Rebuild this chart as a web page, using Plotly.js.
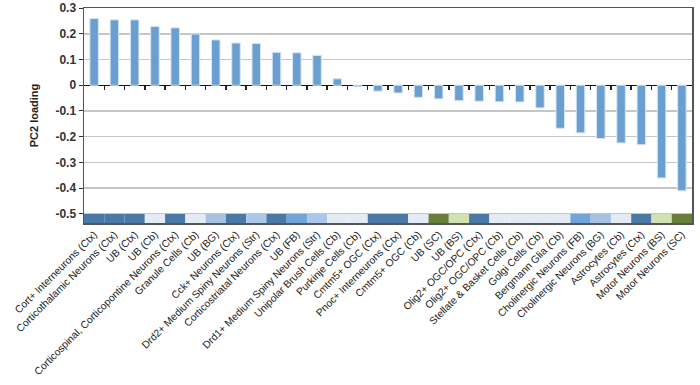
<!DOCTYPE html>
<html>
<head>
<meta charset="utf-8">
<script src="https://cdn.plot.ly/plotly-3.0.1.min.js"></script>
<style>html,body{margin:0;padding:0;background:#fff;}#chart{width:700px;height:385px;}</style>
</head>
<body>
<div id="chart"></div>
<script>
const categories = [
  "Cort+ Interneurons (Ctx)", "Corticothalamic Neurons (Ctx)", "UB (Ctx)", "UB (Cb)",
  "Corticospinal, Corticopontine Neurons (Ctx)", "Granule Cells (Cb)", "UB (BG)",
  "Cck+ Neurons (Ctx)", "Drd2+ Medium Spiny Neurons (Str)", "Corticostriatal Neurons (Ctx)",
  "UB (FB)", "Drd1+ Medium Spiny Neurons (Str)", "Unipolar Brush Cells (Cb)",
  "Purkinje Cells (Cb)", "Cmtm5+ OGC (Ctx)", "Pnoc+ Interneurons (Ctx)", "Cmtm5+ OGC (Cb)",
  "UB (SC)", "UB (BS)", "Olig2+ OGC/OPC (Ctx)", "Olig2+ OGC/OPC (Cb)",
  "Stellate & Basket Cells (Cb)", "Golgi Cells (Cb)", "Bergmann Glia (Cb)",
  "Cholinergic Neurons (FB)", "Cholinergic Neurons (BG)", "Astrocytes (Cb)",
  "Astrocytes (Ctx)", "Motor Neurons (BS)", "Motor Neurons (SC)"
];
const pc2Loading = [
  0.259, 0.254, 0.254, 0.228, 0.223, 0.199, 0.176, 0.164, 0.162, 0.128,
  0.126, 0.116, 0.025, -0.006, -0.023, -0.030, -0.047, -0.053, -0.060, -0.062,
  -0.064, -0.065, -0.088, -0.167, -0.185, -0.207, -0.224, -0.231, -0.360, -0.410
];
const regions = [
  "Ctx","Ctx","Ctx","Cb","Ctx","Cb","BG","Ctx","Str","Ctx",
  "FB","Str","Cb","Cb","Ctx","Ctx","Cb","SC","BS","Ctx",
  "Cb","Cb","Cb","Cb","FB","BG","Cb","Ctx","BS","SC"
];
const regionColors = {
  Ctx: "#4a79a8", Cb: "#e3ebf5", BG: "#a6c2e0", Str: "#a9c8ea",
  FB: "#6fa5d8", SC: "#687f3a", BS: "#d2e1b2"
};
const yTickVals = [-0.5, -0.4, -0.3, -0.2, -0.1, 0, 0.1, 0.2, 0.3];
const yTickText = ["-0.5", "-0.4", "-0.3", "-0.2", "-0.1", "0", "0.1", "0.2", "0.3"];
const stripTop = -0.5;
const stripDepth = -0.035;

const idx = categories.map((_, i) => i);
const yRange = [stripTop + stripDepth, 0.3];
const zeroFrac = (0 - yRange[0]) / (yRange[1] - yRange[0]);
const boundaries = categories.slice(1).map((_, i) => i + 0.5);

const traces = [
  {
    type: "bar", x: idx, y: pc2Loading,
    marker: { color: "#6a9fd0", line: { color: "#d6e6f5", width: 1 } },
    width: 0.42, hoverinfo: "x+y", showlegend: false
  },
  {
    type: "bar", x: idx, y: idx.map(() => stripDepth), base: idx.map(() => stripTop),
    marker: { color: regions.map(r => regionColors[r]), line: { width: 0 } },
    width: 1.0, showlegend: false, hoverinfo: "skip"
  },
  {
    type: "scatter", x: [0], y: [0], xaxis: "x2", yaxis: "y",
    mode: "markers", marker: { opacity: 0 }, showlegend: false, hoverinfo: "skip"
  }
];

const layout = {
  width: 700, height: 385,
  margin: { l: 84, r: 8, t: 8, b: 162 },
  paper_bgcolor: "#fff", plot_bgcolor: "#fff",
  font: { family: "Liberation Sans, Arial, sans-serif", color: "#222" },
  barmode: "overlay",
  xaxis: {
    range: [-0.5, categories.length - 0.5],
    tickvals: idx, ticktext: categories, tickangle: -45,
    tickfont: { size: 10.3, color: "#222" },
    showline: true, mirror: true, linecolor: "#555", linewidth: 1.5,
    showgrid: false, zeroline: false, ticks: ""
  },
  xaxis2: {
    overlaying: "x", anchor: "free", position: zeroFrac,
    range: [-0.5, categories.length - 0.5],
    tickvals: boundaries, ticks: "outside", ticklen: 4, tickwidth: 1.5, tickcolor: "#222",
    showticklabels: false, showline: false, showgrid: false, zeroline: false
  },
  yaxis: {
    range: yRange,
    tickvals: yTickVals, ticktext: yTickText,
    tickfont: { size: 12, color: "#333", weight: "bold" },
    ticks: "outside", ticklen: 4, tickcolor: "#333",
    showline: true, mirror: true, linecolor: "#555", linewidth: 1.5,
    showgrid: true, gridcolor: "#c6c6c6", gridwidth: 1.5,
    zeroline: true, zerolinecolor: "#111", zerolinewidth: 1.5,
    title: { text: "PC2 loading", font: { size: 11, color: "#222", weight: "bold" }, standoff: 14 }
  }
};

Plotly.newPlot("chart", traces, layout, { displayModeBar: false, staticPlot: true });
</script>
</body>
</html>
